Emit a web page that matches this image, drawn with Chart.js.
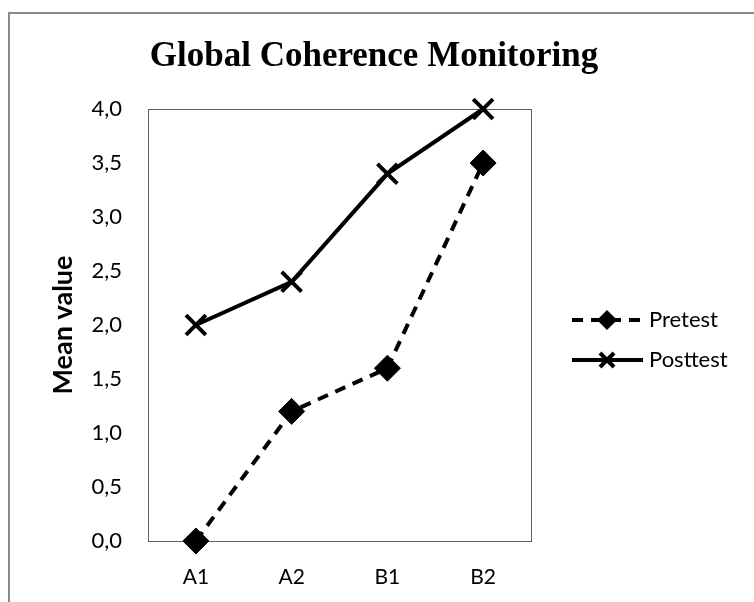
<!DOCTYPE html>
<html>
<head>
<meta charset="utf-8">
<script src="https://cdn.jsdelivr.net/npm/chart.js@4.4.0/dist/chart.umd.min.js"></script>
<style>
html, body { margin: 0; padding: 0; background: #fff; }
canvas { display: block; }
</style>
</head>
<body>
<canvas id="chart" width="754" height="602"></canvas>
<script>
// Categories and series
const categories = ["A1", "A2", "B1", "B2"];
const pretest = [0.0, 1.2, 1.6, 3.5];
const posttest = [2.0, 2.4, 3.4, 4.0];
const seriesNames = ["Pretest", "Posttest"];
const chartTitle = "Global Coherence Monitoring";
const yTitle = "Mean value";

// outer frame, plot box, title and the legend with line samples
const decorations = {
  id: "decorations",
  beforeDatasetsDraw(chart) {
    const ctx = chart.ctx;
    const a = chart.chartArea;
    ctx.save();
    ctx.strokeStyle = "#8a8a8a";
    ctx.lineWidth = 2;
    ctx.beginPath();
    ctx.moveTo(9, 602);
    ctx.lineTo(9, 13);
    ctx.lineTo(754, 13);
    ctx.stroke();
    ctx.strokeStyle = "#5f5f5f";
    ctx.lineWidth = 1;
    ctx.strokeRect(a.left + 0.5, a.top + 0.5, a.right - a.left, a.bottom - a.top);
    ctx.restore();
  },
  afterDraw(chart) {
    const ctx = chart.ctx;
    ctx.save();
    ctx.fillStyle = "#000";
    ctx.font = "bold 35px 'Liberation Serif'";
    ctx.textAlign = "center";
    ctx.textBaseline = "middle";
    ctx.fillText(chartTitle, 374, 57);

    const rows = [320, 360];
    chart.data.datasets.forEach((ds, i) => {
      const y = rows[i];
      ctx.strokeStyle = "#000";
      ctx.lineWidth = 4;
      ctx.setLineDash(ds.borderDash || []);
      ctx.beginPath();
      ctx.moveTo(572, y);
      ctx.lineTo(643, y);
      ctx.stroke();
      ctx.setLineDash([]);
      const cx = 607;
      if (ds.pointStyle === "rectRot") {
        const r = 10;
        ctx.beginPath();
        ctx.moveTo(cx, y - r);
        ctx.lineTo(cx + r, y);
        ctx.lineTo(cx, y + r);
        ctx.lineTo(cx - r, y);
        ctx.closePath();
        ctx.fill();
      } else {
        const r = 7;
        ctx.lineWidth = 4;
        ctx.beginPath();
        ctx.moveTo(cx - r, y - r);
        ctx.lineTo(cx + r, y + r);
        ctx.moveTo(cx + r, y - r);
        ctx.lineTo(cx - r, y + r);
        ctx.stroke();
      }
      ctx.font = "22px Lato";
      ctx.textAlign = "left";
      ctx.fillText(ds.label, 649, y);
    });
    ctx.restore();
  }
};

new Chart(document.getElementById("chart"), {
  type: "line",
  data: {
    labels: categories,
    datasets: [{
      label: seriesNames[0],
      data: pretest,
      borderColor: "#000",
      backgroundColor: "#000",
      borderWidth: 4,
      borderDash: [11, 8],
      pointStyle: "rectRot",
      pointRadius: 13,
      pointBorderWidth: 1,
      tension: 0,
      clip: false
    }, {
      label: seriesNames[1],
      data: posttest,
      borderColor: "#000",
      backgroundColor: "#000",
      borderWidth: 4,
      pointStyle: "crossRot",
      pointRadius: 14,
      pointBorderWidth: 4,
      tension: 0,
      clip: false
    }]
  },
  options: {
    responsive: false,
    animation: false,
    devicePixelRatio: 1,
    layout: { padding: { top: 109, right: 223, bottom: 0, left: 0 } },
    plugins: {
      legend: { display: false },
      title: { display: false },
      tooltip: { enabled: false }
    },
    scales: {
      x: {
        offset: true,
        grid: { display: false, drawTicks: false },
        border: { display: false },
        ticks: { color: "#000", padding: 24, font: { family: "Lato", size: 21 } },
        afterFit(s) { s.height = 61; }
      },
      y: {
        min: 0,
        max: 4,
        grid: { display: false, drawTicks: false },
        border: { display: false },
        ticks: {
          stepSize: 0.5,
          color: "#000",
          padding: 26,
          font: { family: "Lato", size: 22 },
          callback: v => v.toFixed(1).replace(".", ",")
        },
        title: {
          display: true,
          text: yTitle,
          color: "#000",
          font: { family: "Lato", size: 27, weight: "bold" },
          padding: { top: 47, bottom: 0 }
        },
        afterFit(s) { s.width = 148; }
      }
    }
  },
  plugins: [decorations]
});
</script>
</body>
</html>
